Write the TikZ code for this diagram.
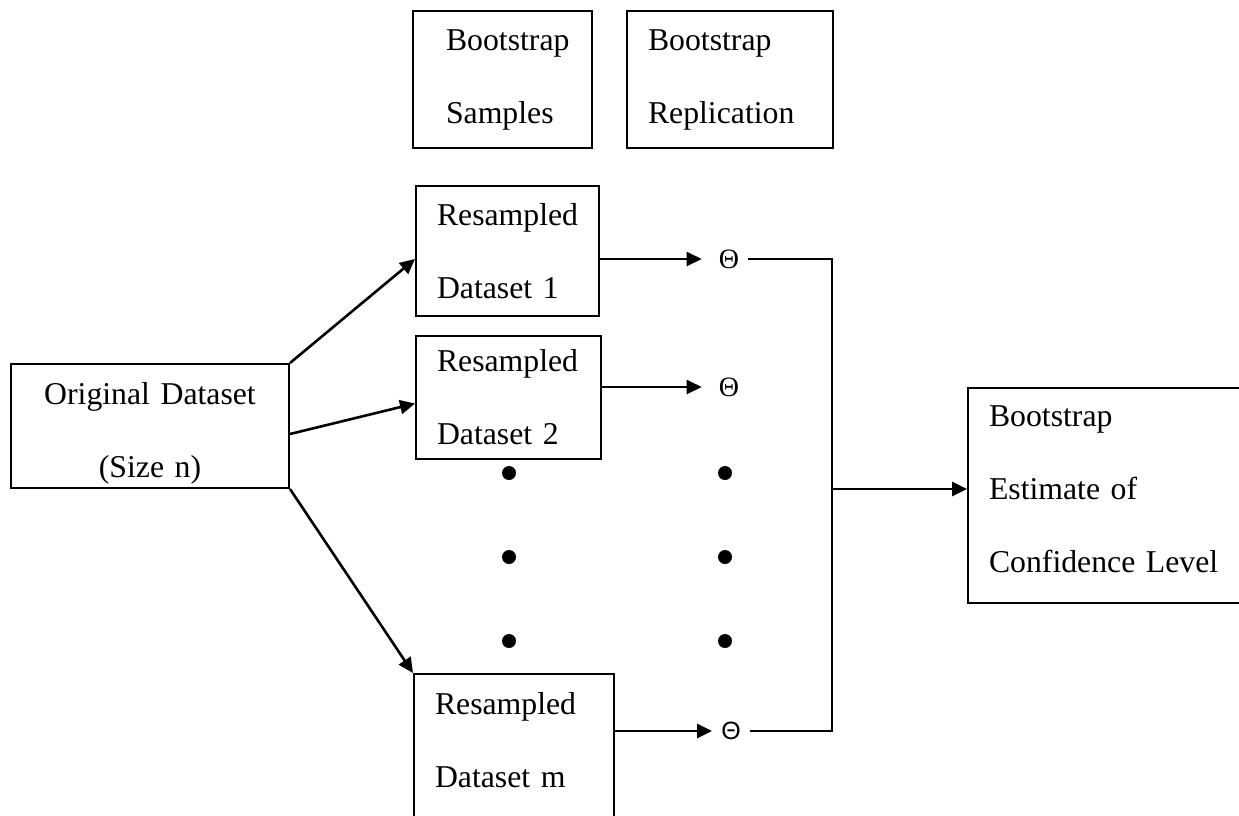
\documentclass[tikz,border=0pt]{standalone}
\usepackage{fontspec}
\setmainfont{Liberation Serif}
\newfontfamily\thetasans{Liberation Sans}
\usetikzlibrary{arrows.meta}

\tikzset{
	box/.style = {draw, line width = 2pt, anchor = north west, align = left, inner xsep = 21pt, inner ysep = 0pt, font = \fontsize{31.75}{73}\selectfont},
	theta/.style = {inner xsep = 9pt, inner ysep = 0pt, font = \fontsize{28}{28}\selectfont},
	arr/.style = {line width = 2.6pt, -{Triangle[length = 15pt, width = 14pt]}},
	tharr/.style = {arr, shorten > = 8pt},
}

\begin{document}
\begin{tikzpicture}[x = 1pt, y = -1pt]
	\useasboundingbox (0,0) rectangle (1239,816);

	% headings
	\node [box, inner xsep = 33pt, text width = 113pt, minimum height = 137pt] (samp) at (412,10) {Bootstrap\\Samples};
	\node [box, text width = 164pt, minimum height = 137pt] (repl) at (626,10) {Bootstrap\\Replication};

	% data sets
	\node [box, align = center, text width = 236pt, minimum height = 124pt, text depth = 66pt] (orig) at (10,363) {Original Dataset\\(Size n)};
	\node [box, text width = 141pt, minimum height = 130pt] (res1) at (415,185) {Resampled\\Dataset 1};
	\node [box, text width = 143pt, minimum height = 123pt] (res2) at (415,335) {Resampled\\Dataset 2};
	\node [box, text width = 158pt, minimum height = 150pt, text depth = 92pt] (resm) at (413,673) {Resampled\\Dataset m};
	\node [box, text width = 241pt, minimum height = 215pt, text depth = 159pt] (est) at (967,387) {Bootstrap\\Estimate of\\Confidence Level};

	% replications
	\node [theta] (th1) at (729,259) {Θ};
	\node [theta] (th2) at (729,387) {Θ};
	\node [theta, font = \thetasans\fontsize{25}{25}\selectfont] (thm) at (731,731) {Θ};
	\coordinate (join) at (832,489);

	\foreach \y in {473, 557, 641} {
		\fill (509,\y) circle (7pt);
		\fill (725,\y) circle (7pt);
	}

	\draw [arr] (orig.north east) -- (res1.west |- th1);
	\draw [arr] ([yshift = -8pt]orig.east) -- ([yshift = -6pt]res2.west);
	\draw [arr] (orig.south east) -- (resm.north west);

	\draw [tharr] (res1.east |- th1) -- (th1);
	\draw [tharr] (res2.east |- th2) -- (th2);
	\draw [tharr, shorten > = 0pt] (resm.east |- thm) -- (thm);

	\draw [line width = 2pt] (th1.east) -| (join) |- (thm.east);
	\draw [arr] (join) -- (join -| est.west);
\end{tikzpicture}
\end{document}
